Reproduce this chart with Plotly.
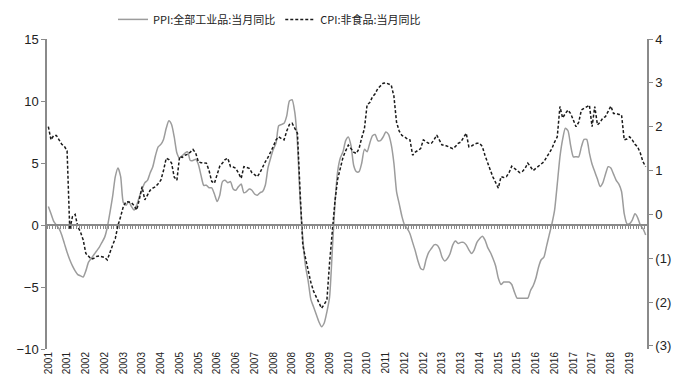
import plotly.graph_objects as go

# Monthly data 2001-01 .. 2019-08
ppi_2001 = [1.5, 0.9, 0.3, 0.0, -0.3, -0.8, -1.5, -2.2, -2.8, -3.3, -3.7, -4.0]
ppi_2002 = [-4.1, -4.2, -3.7, -3.0, -2.7, -2.4, -2.1, -1.8, -1.4, -1.0, -0.2, 1.0]
ppi_2003 = [2.3, 3.9, 4.6, 3.9, 1.8, 1.6, 1.9, 1.5, 1.2, 1.6, 2.3, 2.9]
ppi_2004 = [3.4, 3.6, 4.2, 4.7, 5.6, 6.3, 6.5, 6.9, 7.8, 8.4, 8.1, 7.1]
ppi_2005 = [5.8, 5.4, 5.6, 5.8, 5.9, 5.2, 5.2, 5.3, 4.9, 4.0, 3.2, 3.2]
ppi_2006 = [3.0, 3.0, 2.5, 1.9, 2.4, 3.5, 3.6, 3.4, 3.5, 2.9, 2.8, 3.1]
ppi_2007 = [3.3, 2.6, 2.7, 2.9, 2.8, 2.5, 2.4, 2.6, 2.7, 3.2, 4.6, 5.4]
ppi_2008 = [6.1, 6.6, 8.0, 8.1, 8.2, 8.8, 10.0, 10.1, 9.1, 6.6, 2.0, -1.1]
ppi_2009 = [-3.3, -4.5, -6.0, -6.6, -7.2, -7.8, -8.2, -7.9, -7.0, -5.8, -2.1, 1.7]
ppi_2010 = [4.3, 5.4, 5.9, 6.8, 7.1, 6.4, 4.8, 4.3, 4.3, 5.0, 6.1, 5.9]
ppi_2011 = [6.6, 7.2, 7.3, 6.8, 6.8, 7.1, 7.5, 7.3, 6.5, 5.0, 2.7, 1.7]
ppi_2012 = [0.7, 0.0, -0.3, -0.7, -1.4, -2.1, -2.9, -3.5, -3.6, -2.8, -2.2, -1.9]
ppi_2013 = [-1.6, -1.6, -1.9, -2.6, -2.9, -2.7, -2.3, -1.6, -1.3, -1.5, -1.4, -1.4]
ppi_2014 = [-1.6, -2.0, -2.3, -2.0, -1.4, -1.1, -0.9, -1.2, -1.8, -2.2, -2.7, -3.3]
ppi_2015 = [-4.3, -4.8, -4.6, -4.6, -4.6, -4.8, -5.4, -5.9, -5.9, -5.9, -5.9, -5.9]
ppi_2016 = [-5.3, -4.9, -4.3, -3.4, -2.8, -2.6, -1.7, -0.8, 0.1, 1.2, 3.3, 5.5]
ppi_2017 = [6.9, 7.8, 7.6, 6.4, 5.5, 5.5, 5.5, 6.3, 6.9, 6.9, 5.8, 4.9]
ppi_2018 = [4.3, 3.7, 3.1, 3.4, 4.1, 4.7, 4.6, 4.1, 3.6, 3.3, 2.7, 0.9]
ppi_2019 = [0.1, 0.1, 0.4, 0.9, 0.6, 0.0, -0.3, -0.8]

cpi_2001 = [2.0, 1.7, 1.8, 1.8, 1.7, 1.6, 1.55, 1.45, -0.35, -0.05, 0.0, -0.28]
cpi_2002 = [-0.4, -0.58, -0.89, -0.95, -1.02, -1.0, -0.96, -0.95, -0.97, -0.98, -1.04, -0.85]
cpi_2003 = [-0.7, -0.55, -0.25, -0.05, 0.18, 0.29, 0.28, 0.27, 0.2, 0.1, 0.35, 0.63]
cpi_2004 = [0.33, 0.45, 0.55, 0.6, 0.63, 0.7, 0.78, 1.0, 1.28, 1.25, 1.17, 0.85]
cpi_2005 = [0.78, 1.32, 1.3, 1.35, 1.37, 1.42, 1.48, 1.4, 1.2, 1.18, 1.17, 1.17]
cpi_2006 = [1.0, 0.75, 0.71, 0.9, 1.1, 1.17, 1.25, 1.28, 1.09, 1.08, 1.05, 0.94]
cpi_2007 = [0.82, 1.09, 1.07, 1.05, 0.95, 0.9, 0.86, 0.95, 1.09, 1.2, 1.3, 1.42]
cpi_2008 = [1.55, 1.7, 1.77, 1.73, 1.7, 1.9, 2.05, 2.08, 1.98, 1.85, 0.5, -0.7]
cpi_2009 = [-1.0, -1.3, -1.55, -1.75, -1.88, -2.0, -2.14, -2.05, -1.95, -1.1, -0.3, 0.3]
cpi_2010 = [0.8, 1.05, 1.3, 1.45, 1.58, 1.5, 1.42, 1.39, 1.5, 1.75, 1.95, 2.5]
cpi_2011 = [2.55, 2.68, 2.75, 2.87, 2.92, 2.99, 3.0, 2.97, 2.95, 2.7, 2.1, 1.9]
cpi_2012 = [1.8, 1.77, 1.72, 1.7, 1.35, 1.42, 1.47, 1.5, 1.7, 1.65, 1.62, 1.62]
cpi_2013 = [1.7, 1.81, 1.7, 1.58, 1.58, 1.55, 1.52, 1.5, 1.55, 1.62, 1.65, 1.75]
cpi_2014 = [1.85, 1.54, 1.56, 1.6, 1.62, 1.62, 1.55, 1.35, 1.2, 1.01, 0.85, 0.71]
cpi_2015 = [0.6, 0.86, 0.84, 0.86, 0.95, 1.1, 1.05, 1.0, 0.95, 0.98, 1.05, 1.17]
cpi_2016 = [1.08, 1.0, 1.05, 1.1, 1.13, 1.2, 1.3, 1.39, 1.5, 1.65, 1.77, 2.46]
cpi_2017 = [2.2, 2.3, 2.38, 2.3, 2.15, 2.0, 2.1, 2.38, 2.42, 2.45, 2.49, 2.0]
cpi_2018 = [2.46, 2.04, 2.1, 2.2, 2.23, 2.35, 2.47, 2.3, 2.3, 2.28, 2.27, 1.7]
cpi_2019 = [1.72, 1.77, 1.7, 1.6, 1.54, 1.4, 1.2, 1.09]

ppi = (ppi_2001 + ppi_2002 + ppi_2003 + ppi_2004 + ppi_2005 + ppi_2006 + ppi_2007
       + ppi_2008 + ppi_2009 + ppi_2010 + ppi_2011 + ppi_2012 + ppi_2013 + ppi_2014
       + ppi_2015 + ppi_2016 + ppi_2017 + ppi_2018 + ppi_2019)
cpi = (cpi_2001 + cpi_2002 + cpi_2003 + cpi_2004 + cpi_2005 + cpi_2006 + cpi_2007
       + cpi_2008 + cpi_2009 + cpi_2010 + cpi_2011 + cpi_2012 + cpi_2013 + cpi_2014
       + cpi_2015 + cpi_2016 + cpi_2017 + cpi_2018 + cpi_2019)

years = list(range(2001, 2020))
months = [f"{y}-{m:02d}" for y in years for m in range(1, 13)][:len(ppi)]
idx = list(range(len(months)))

label_step = 7
label_pos = idx[::label_step]
label_text = [months[i][:4] for i in label_pos]

left_ticks = [-10, -5, 0, 5, 10, 15]
right_ticks = [-3, -2, -1, 0, 1, 2, 3, 4]
right_text = ["(3)", "(2)", "(1)", "0", "1", "2", "3", "4"]

axis_gray = "#8a8a8a"

fig = go.Figure()
fig.add_trace(go.Scatter(
    x=idx, y=ppi, mode="lines", name="PPI:全部工业品:当月同比",
    line=dict(color="#9c9c9c", width=1.5, shape="spline", smoothing=0.6),
    xaxis="x", yaxis="y"))
fig.add_trace(go.Scatter(
    x=idx, y=cpi, mode="lines", name="CPI:非食品:当月同比",
    line=dict(color="#1a1a1a", width=1.5, dash="3px,2px"),
    xaxis="x", yaxis="y2"))
# helper trace to render the zero-crossing category axis
fig.add_trace(go.Scatter(x=[None], y=[None], xaxis="x2", yaxis="y",
                         showlegend=False, hoverinfo="skip"))

fig.update_layout(
    width=678, height=376,
    margin=dict(l=39, r=39, t=31, b=35, autoexpand=False),
    paper_bgcolor="white", plot_bgcolor="white",
    font=dict(family="Liberation Sans, Arial, sans-serif", size=13, color="#222"),
    showlegend=True,
    legend=dict(orientation="h", x=0.11, xanchor="left", y=1.11, yanchor="top",
                font=dict(family="Noto Sans CJK SC", size=11, color="#222"),
                itemwidth=30, tracegroupgap=0, bgcolor="rgba(0,0,0,0)"),
    xaxis=dict(range=[-0.5, len(idx) - 0.5], tickmode="array",
               tickvals=label_pos, ticktext=label_text, tickangle=-90,
               tickfont=dict(size=10, family="Liberation Sans, Arial"),
               showline=False, ticks="", showgrid=False, zeroline=False,
               anchor="y", automargin=False),
    xaxis2=dict(range=[-0.5, len(idx) - 0.5], overlaying="x", anchor="free",
                position=0.4, showline=True, linecolor=axis_gray, linewidth=1.5,
                ticks="outside", ticklen=3, tickcolor=axis_gray, tickwidth=1,
                tickmode="linear", tick0=0.5, dtick=1,
                showticklabels=False, showgrid=False, zeroline=False),
    yaxis=dict(range=[-10, 15], tickvals=left_ticks, showline=True,
               linecolor=axis_gray, linewidth=1.5, ticks="outside", ticklen=4,
               tickcolor=axis_gray, showgrid=False, zeroline=False,
               automargin=False),
    yaxis2=dict(range=[-3.07, 4], overlaying="y", side="right", anchor="x",
                tickvals=right_ticks, ticktext=right_text, showline=True,
                linecolor=axis_gray, linewidth=1.5, ticks="outside", ticklen=4,
                tickcolor=axis_gray, showgrid=False, zeroline=False,
                automargin=False),
)

fig.write_html("out.html")
